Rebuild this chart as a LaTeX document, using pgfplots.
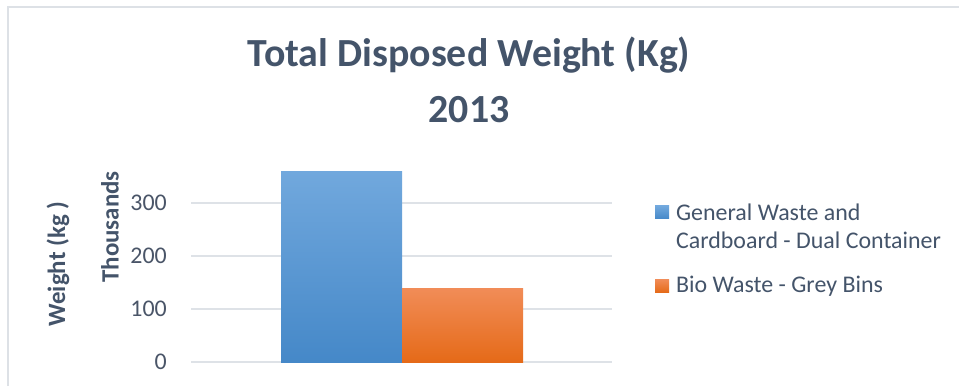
\documentclass[border=0pt]{standalone}
\usepackage{pgfplots}
\pgfplotsset{compat=1.18}
\usepackage{fontspec}
\setmainfont{Carlito}
\definecolor{txt}{HTML}{44546A}
\definecolor{tick}{HTML}{4A5568}
\definecolor{gridc}{HTML}{DEE2E7}
\definecolor{blueT}{HTML}{71A8DD}
\definecolor{blueB}{HTML}{4588C8}
\definecolor{orT}{HTML}{F18C57}
\definecolor{orB}{HTML}{E56A18}
\definecolor{frame}{HTML}{DDE1E6}
\begin{document}
\begin{tikzpicture}[x=1bp,y=1bp]
\useasboundingbox (0,0) rectangle (959,386);
\fill[white] (0,0) rectangle (959,386);
\draw[frame, line width=1.5bp] (8,0) -- (8,379) -- (959,379);
\node[font=\fontsize{40}{44}\selectfont\bfseries, text=txt] at (469,331) {Total Disposed Weight (Kg)};
\node[font=\fontsize{40}{44}\selectfont\bfseries, text=txt] at (469,276) {2013};
\node[font=\fontsize{25}{28}\selectfont\bfseries, text=txt, rotate=90] at (58,122) {Weight (kg )};
\node[font=\fontsize{25}{28}\selectfont\bfseries, text=txt, rotate=90] at (110,159) {Thousands};
\begin{axis}[
  at={(191bp,24bp)}, anchor=south west,
  scale only axis, width=421bp, height=196.1bp,
  xmin=191, xmax=612, ymin=0, ymax=370,
  axis line style={draw=none},
  tick style={draw=none},
  major tick length=0pt,
  xtick=\empty,
  ytick={0,100,200,300},
  ymajorgrids,
  grid style={gridc, line width=1.5bp},
  /pgf/number format/assume math mode=true,
  yticklabel style={font=\fontsize{24}{28}\selectfont, text=tick, inner sep=0pt, xshift=-24bp},
  ybar, bar shift=0pt, bar width=121bp,
  legend image code/.code={\path[#1, draw=none] (0bp,-7bp) rectangle (14bp,6bp); \path (19bp,0bp);},
  legend style={at={(1.102,0.83)}, anchor=north west, draw=none, fill=none,
    font=\fontsize{24}{28}\selectfont, text=txt, inner sep=0pt, row sep=50bp,
    cells={anchor=west}},
  legend cell align=left,
]
\addplot[draw=none, top color=blueT, bottom color=blueB] coordinates {(341.5,360)};
\addlegendentry{\begin{tabular}[t]{@{}l@{}}General Waste and\\Cardboard - Dual Container\end{tabular}}
\addplot[draw=none, top color=orT, bottom color=orB] coordinates {(462.5,138)};
\addlegendentry{Bio Waste - Grey Bins}
\end{axis}
\end{tikzpicture}
\end{document}
